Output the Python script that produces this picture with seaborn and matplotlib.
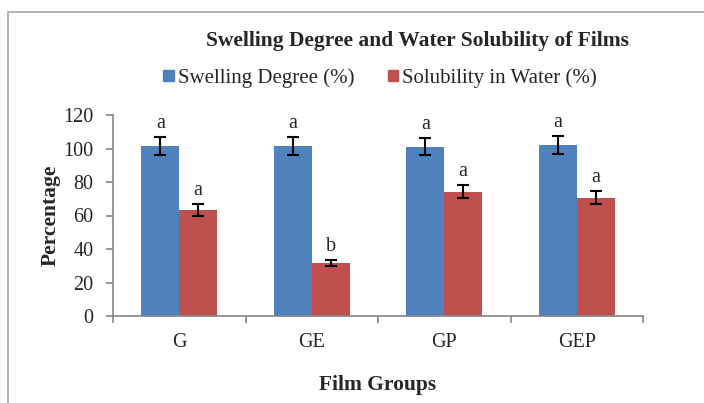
import matplotlib
matplotlib.use("Agg")
import matplotlib.pyplot as plt
import seaborn as sns
import pandas as pd
import numpy as np
from matplotlib.patches import Rectangle, Patch

# data
groups = ["G", "GE", "GP", "GEP"]
swelling = [101.5, 101.5, 101.1, 101.9]
swelling_err = [5.1, 5.1, 5.2, 5.3]
solubility = [63.3, 31.6, 74.2, 70.6]
solubility_err = [3.4, 1.6, 3.9, 3.8]
swelling_letters = ["a", "a", "a", "a"]
solubility_letters = ["a", "b", "a", "a"]
series_names = ["Swelling Degree (%)", "Solubility in Water (%)"]

df = pd.DataFrame({
    "group": groups * 2,
    "series": [series_names[0]] * 4 + [series_names[1]] * 4,
    "value": swelling + solubility,
})

sns.set_style("white")
plt.rcParams["font.family"] = ["Liberation Serif", "DejaVu Serif"]

fig = plt.figure(figsize=(7.04, 4.03), dpi=100)
ax = fig.add_axes([113 / 704, 87 / 403, 530 / 704, 201 / 403])

sns.barplot(data=df, x="group", y="value", hue="series", order=groups,
            hue_order=series_names, palette=["#4F81BD", "#C0504D"],
            width=0.57, gap=0, errorbar=None, ax=ax, saturation=1,
            edgecolor="none", legend=False)

# error bars + letters on top of each bar
errs = [swelling_err, solubility_err]
letters = [swelling_letters, solubility_letters]
for cont, err, lab in zip(ax.containers, errs, letters):
    xs = [p.get_x() + p.get_width() / 2 for p in cont.patches]
    hs = [p.get_height() for p in cont.patches]
    ax.errorbar(xs, hs, yerr=err, fmt="none", ecolor="black",
                elinewidth=1.5, capsize=4.5, capthick=1.5)
    for x, h, e, t in zip(xs, hs, err, lab):
        ax.text(x, h + e + 2.5, t, ha="center", va="bottom", fontsize=14.5)

ax.set_ylim(0, 120)
ax.set_yticks(range(0, 121, 20))
ax.set_xlim(-0.5, 3.5)
ax.set_xticks(np.arange(-0.5, 4, 1))
ax.set_xticklabels([])
ax.set_xticks(range(len(groups)), minor=True)
ax.set_xticklabels(groups, minor=True, fontsize=14.5)
ax.tick_params(axis="x", which="major", direction="out", length=5,
               color="#868686", width=1.2, bottom=True)
ax.tick_params(axis="x", which="minor", length=0, pad=12)
ax.tick_params(axis="y", direction="out", length=5, color="#868686",
               width=1.2, left=True, labelsize=14.5, pad=9)

for s in ["top", "right"]:
    ax.spines[s].set_visible(False)
for s in ["left", "bottom"]:
    ax.spines[s].set_color("#868686")
    ax.spines[s].set_linewidth(1.2)

ax.set_xlabel("Film Groups", fontsize=15.5, fontweight="bold", labelpad=17)
ax.set_ylabel("Percentage", fontsize=15.5, fontweight="bold", labelpad=2)

fig.text(417 / 704, 1 - 41 / 403, "Swelling Degree and Water Solubility of Films",
         ha="center", va="center", fontsize=15.5, fontweight="bold")

handles = [Patch(color="#4F81BD"), Patch(color="#C0504D")]
fig.legend(handles, series_names, loc="center", bbox_to_anchor=(380 / 704, 1 - 78 / 403),
           ncol=2, frameon=False, fontsize=15, handlelength=0.5, handleheight=0.5,
           handletextpad=0.2, columnspacing=1.6)

# chart area border
fig.add_artist(Rectangle((8 / 704, -0.05), 1.0, 1 - 12 / 403 + 0.05,
                         transform=fig.transFigure, fill=False,
                         edgecolor="#A6A6A6", linewidth=1.2))

fig.savefig("out.png", dpi=100)
